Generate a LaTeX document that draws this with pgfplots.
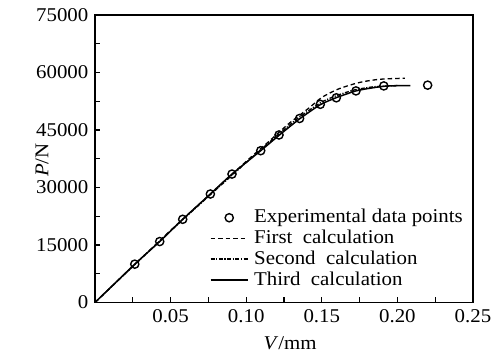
\documentclass[border=0pt]{standalone}
\usepackage{fontspec}
\setmainfont{Liberation Serif}[FakeStretch=1.07]
\usepackage{pgfplots}
\pgfplotsset{compat=1.18}
\pgfplotsset{
  linelegend/.style={legend image code/.code={\draw[##1] (0pt,0pt) -- (37pt,0pt);}},
  marklegend/.style={legend image code/.code={\path (0pt,0pt) (37pt,0pt); \draw[##1] plot coordinates {(18.5pt,0pt)};}}
}
\begin{document}
\fontsize{19.5}{21}\selectfont
\begin{tikzpicture}
\begin{axis}[
  scale only axis, width=378pt, height=287.5pt,
  xmin=0, xmax=0.25, ymin=0, ymax=75000,
  xtick={0.05,0.1,0.15,0.2,0.25},
  minor xtick={0.025,0.075,0.125,0.175,0.225},
  ytick={0,15000,30000,45000,60000,75000},
  minor ytick={7500,22500,37500,52500,67500},
  xtick pos=bottom, ytick pos=left, tick align=inside,
  major tick length=5pt, minor tick length=5pt,
  axis line style={line width=1.5pt},
  every tick/.style={line width=1.3pt, black},
  scaled x ticks=false, scaled y ticks=false,
  xticklabel style={/pgf/number format/.cd, fixed, fixed zerofill, precision=2},
  yticklabel style={/pgf/number format/.cd, fixed, set thousands separator={}},
  /pgf/number format/assume math mode=true,
  tick label style={font=\fontsize{19.5}{21}\selectfont},
  label style={font=\fontsize{19.5}{21}\selectfont},
  xlabel={\textit{V}/mm},
  ylabel={\textit{P}/N},
  xlabel style={at={(axis description cs:0.516,-0.141)}, anchor=center},
  ylabel style={at={(axis description cs:-0.140,0.495)}, anchor=center},
  legend style={draw=none, fill=none, at={(rel axis cs:0.3042,0.3287)}, anchor=north west,
    inner sep=0pt, outer sep=0pt, row sep=1.2pt,
    font=\fontsize{19.5}{21}\selectfont,
    nodes={inner sep=1pt, text height=14pt, text depth=3.5pt},
    /tikz/every odd column/.style={column sep=4.7pt}},
  legend cell align=left,
]
\addplot[only marks, mark=o, mark size=4.1pt, line width=1.4pt, black, marklegend]
coordinates {
(0.0263,10000) (0.0428,15900) (0.0580,21700) (0.0763,28300) (0.0906,33500)
(0.1096,39600) (0.1217,43700) (0.1353,48000) (0.1490,51700) (0.1596,53400)
(0.1726,55200) (0.1910,56500) (0.2200,56700)};
\addlegendentry{Experimental data points}
\addplot[black, line width=1.3pt, dash pattern=on 4.5pt off 3pt, smooth, tension=0.4, linelegend]
coordinates {
(0,0) (0.05,18800) (0.1,36800) (0.115,42000) (0.128,46600) (0.1414,50700)
(0.15,53500) (0.161,55700) (0.172,57100) (0.1787,57700) (0.1875,58200)
(0.196,58400) (0.205,58500)};
\addlegendentry{First\ \ calculation}
\addplot[black, line width=1.3pt, dash pattern=on 4pt off 1.5pt on 1.2pt off 1.5pt, smooth, tension=0.4, linelegend]
coordinates {
(0,0) (0.05,18700) (0.1,36500) (0.12,43400) (0.135,48300) (0.15,52300)
(0.16,54000) (0.172,55500) (0.185,56300) (0.2,56600)};
\addlegendentry{Second\ \ calculation}
\addplot[black, line width=1.5pt, smooth, tension=0.4, linelegend]
coordinates {
(0,0) (0.0263,10000) (0.0428,15900) (0.058,21700) (0.0763,28300) (0.0906,33500)
(0.1096,39600) (0.1217,43600) (0.1353,47900) (0.149,51600) (0.16,53500)
(0.1726,55200) (0.182,55900) (0.191,56400) (0.2,56550) (0.2086,56550)};
\addlegendentry{Third\ \ calculation}
\end{axis}
\pgfresetboundingbox
\path ([shift={(-95pt,-54.5pt)}]current axis.south west) rectangle ([shift={(21pt,15pt)}]current axis.north east);
\end{tikzpicture}
\end{document}
